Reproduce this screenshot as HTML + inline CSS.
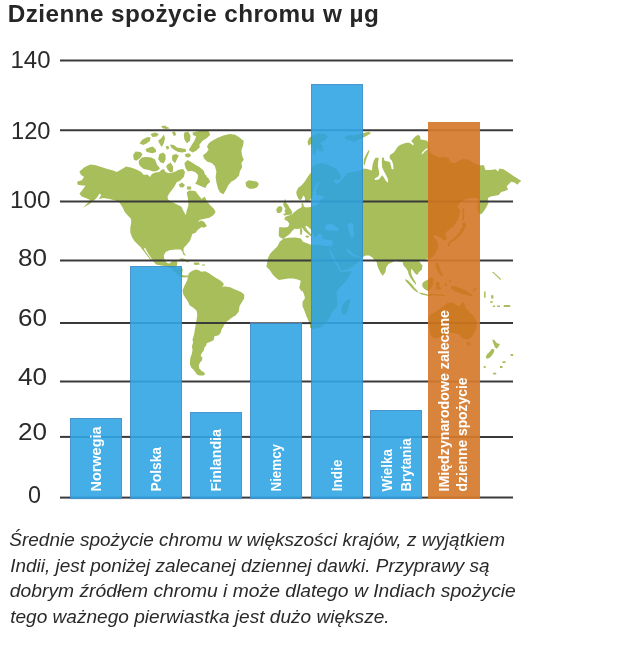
<!DOCTYPE html>
<html lang="pl"><head><meta charset="utf-8"><title>Dzienne spożycie chromu w µg</title>
<style>
html,body{margin:0;padding:0;background:#fff;}
body{width:640px;height:653px;overflow:hidden;position:relative;font-family:"Liberation Sans",sans-serif;}
svg{position:absolute;left:0;top:0;display:block}
text{font-family:"Liberation Sans",sans-serif;}
.t{font-weight:bold;font-size:24.3px;fill:#262626}
.yl{font-size:23.5px;fill:#2a2a2a}
.bl{font-weight:bold;font-size:14.6px;fill:#fff}
.cap{font-style:italic;font-size:18.6px;fill:#2a2a2a}
</style></head><body>
<svg width="640" height="653" viewBox="0 0 640 653">
<text class="t" x="7.8" y="21.6" textLength="371" lengthAdjust="spacing">Dzienne spożycie chromu w µg</text>
<text class="yl" x="10.5" y="67.5" textLength="40.0" lengthAdjust="spacingAndGlyphs">140</text>
<text class="yl" x="11" y="138.5" textLength="39.5" lengthAdjust="spacingAndGlyphs">120</text>
<text class="yl" x="10" y="208.2" textLength="40.5" lengthAdjust="spacingAndGlyphs">100</text>
<text class="yl" x="18" y="265.6" textLength="29" lengthAdjust="spacingAndGlyphs">80</text>
<text class="yl" x="18" y="326.2" textLength="29" lengthAdjust="spacingAndGlyphs">60</text>
<text class="yl" x="18" y="385" textLength="29" lengthAdjust="spacingAndGlyphs">40</text>
<text class="yl" x="18" y="440.2" textLength="29" lengthAdjust="spacingAndGlyphs">20</text>
<text class="yl" x="28" y="502.6" textLength="13" lengthAdjust="spacingAndGlyphs">0</text>
<path fill="#a7be5a" fill-rule="nonzero" d="M79.4 171.6 L84.8 166.9 L90.3 164.5 L95.8 165.3 L101.2 166.9 L106.7 168.8 L112.2 170.3 L116.9 171.9 L121.6 169.2 L126.2 166.6 L131.7 167.7 L135.6 169.2 L137.5 170.1 L141.2 172 L143.8 175.1 L147.5 174.5 L150 177 L151.9 173.9 L155 172.6 L159.4 172 L161.2 170.1 L163.8 168.9 L165.6 172 L168.8 173.2 L172.5 172.6 L175.6 171.4 L178.1 170.1 L180 169.5 L183.1 168.9 L185 172 L183.8 177 L180 180.8 L176.9 182 L174.4 186.4 L171.9 190.1 L169.4 193.2 L167.5 196.4 L168 199.5 L171.9 201.9 L176.6 204.2 L181.2 206.6 L183.6 211.2 L185.9 215.2 L186.7 210.5 L188.3 205.8 L188.3 201.1 L187.5 196.4 L186.7 192.5 L189.1 190.6 L195.3 191.1 L198.4 195 L201.6 198.9 L204.7 196.6 L207 201.2 L210.2 205.2 L214.1 209.1 L215.6 212.2 L213.3 215.3 L209.4 217.7 L204.7 218.8 L200 219.8 L197.7 222.2 L200.8 220.6 L203.9 221.4 L207 226.1 L203.9 227.7 L201.6 226.9 L197.7 230 L195.3 233.1 L192.2 233.9 L191.4 237 L189.8 240.9 L186.7 244.8 L183.6 248 L183.6 251.9 L185.9 255.8 L183.6 255 L182 251.1 L180.5 249.5 L175 249.5 L169.5 250.3 L165.6 251.9 L164.1 255 L163.8 254.4 L164 258.1 L165 260.6 L166.9 263.1 L169.4 263.5 L171.2 261.9 L172.5 260.6 L176.2 260.2 L177.5 263.1 L176.6 266.5 L175.6 267.8 L178.8 267.4 L181.9 267.8 L182.8 269.8 L182.2 272.8 L182 275 L184.4 275.6 L188.1 275.6 L188.1 276.9 L183.8 277.5 L180.6 276.9 L177.5 274.4 L173.8 271.2 L170 268.1 L166.2 266.2 L161.2 265.6 L156.2 264.4 L153.8 261.9 L151.2 258.1 L147.5 252.5 L145 247.5 L142.8 250.2 L140.5 247 L137.3 243.9 L134.2 240.8 L131.9 236.9 L130.3 232.2 L130.3 227.5 L131.1 223.6 L131.1 218.9 L128 215.8 L124.8 211.9 L122.5 207.2 L119.4 202.5 L115.3 200.5 L109.1 198.9 L103.6 198.1 L98.9 198.9 L101.2 195 L99.7 193.4 L96.6 198.1 L93.4 200.9 L88.8 204.4 L83.3 207.5 L87.2 203.6 L90.3 200 L85.6 198.1 L81.7 196.6 L79.4 193.4 L81.7 191.1 L83.3 188.8 L85.6 185.6 L82.5 185.6 L77.8 184.8 L77 181.7 L81.7 180.2 L84.1 177 L80.9 174.7Z M141.2 246.9 L143.1 247.5 L146.2 252.5 L149.4 256.9 L151.9 260 L150.6 260 L147.5 256.2 L144.4 251.9 L141.9 248.8Z M188 276.4 L188.8 273.3 L191.9 270.9 L195.8 269.4 L198.9 270.2 L201.2 271.7 L205.2 271.2 L209.1 273.3 L212.2 275.6 L216.1 278 L220 280.3 L223.1 282.7 L223.9 285 L221.6 286.6 L225.5 286.6 L230.2 287.3 L235.6 289.7 L241.1 292 L244.2 294.4 L244.2 298.3 L241.9 302.2 L239.5 306.1 L238.8 311.6 L235.6 315.5 L231.7 317.8 L228.6 320.2 L225.5 322.5 L223.9 325.6 L221.6 329.5 L220.6 333.1 L218.1 335.6 L214.4 336.2 L213.8 340 L210 341.9 L206.9 343.1 L206.2 345.6 L204.4 347.5 L203.8 350.6 L201.9 353.1 L200.6 355.6 L202.5 358.1 L201.9 360.6 L200 362.5 L198.8 365.6 L199.4 368.8 L201.9 371.2 L204.4 372.5 L205 374.4 L203.1 375.6 L199.4 375.6 L196.9 374.4 L195.6 372.5 L193.8 370 L191.2 367.5 L190 364.4 L190 360.6 L190.6 356.9 L191.9 353.8 L192.5 350 L191.9 346.2 L193.1 342.5 L192.5 339.4 L193.8 335.6 L194.4 332.5 L195 328.8 L195.8 324.1 L196.6 319.4 L197.3 314.7 L196.6 310.8 L193.4 307.7 L189.5 305.3 L188 301.4 L185.6 298.3 L183.3 294.4 L182.5 290.5 L184.1 286.6 L185.6 283.4 L187.2 280.3Z M211.7 141.1 L217.2 138 L223.4 135.6 L229.7 134.1 L235.2 134.8 L239.1 137.2 L243.8 141.1 L243 145.8 L241.4 150.5 L242.2 155.9 L243.8 159.8 L241.4 163 L242.2 166.9 L239.8 171.6 L239.1 175.5 L235.2 179.4 L231.2 181.7 L228.1 185.6 L225.8 190.3 L223.4 194.2 L220.3 192.7 L218 188.8 L216.4 182.5 L215.6 177 L216.4 171.6 L214.8 166.1 L211.7 163 L207 161.4 L203.9 158.3 L203.1 155.2 L206.2 152.8 L208.6 149.7 L207 146.6 L208.6 143.4Z M133.1 155.1 L135.6 151.4 L140.6 152 L142.5 154.5 L140 158.2 L136.2 160.8 L133.8 159.5Z M138.8 160.8 L141.9 157.6 L146.2 157 L151.2 157.6 L155 159.5 L156.9 164.5 L160 168.2 L157.5 170.8 L153.1 171.4 L148.8 170.1 L143.8 168.9 L140.6 166.4 L138.8 163.9Z M139.4 143.2 L142.5 139.5 L147.5 137 L150.6 137.6 L150 140.8 L146.9 143.2 L143.1 145.1Z M145.6 148.9 L149.4 147.6 L152.5 146.4 L155.6 148.9 L156.2 152 L152.5 153.2 L148.8 152.6 L146.2 151.4Z M150.6 133.9 L155 132.6 L158.8 133.9 L156.9 136.4 L152.5 137Z M158.1 140.8 L161.2 138.2 L163.8 134.5 L165 138.2 L163.8 143.2 L161.9 147 L160 144.5Z M161.2 125.8 L166.2 126.4 L170 128.2 L166.2 128.9 L162.5 128.2Z M171.9 132 L175 131.4 L176.2 135.1 L173.8 136Z M184.4 132.6 L188.1 131.4 L190.6 135.8 L190 140.8 L186.9 143.2 L184.4 139.5 L183.8 135.1Z M192.5 132.6 L200 130.8 L206.2 129.5 L203.9 128.6 L208.6 130.9 L210.2 134.8 L207 138 L202.3 141.1 L199.2 145 L200 147 L196.2 150.8 L192.5 152.6 L188.8 150.1 L191.2 145.8 L194.4 140.8 L196.2 136.4 L193.1 135.1Z M170 144.5 L173.8 145.1 L176.9 147.6 L181.2 148.2 L185.6 148.9 L186.2 151.4 L182.5 152.6 L178.1 152 L174.4 150.1 L171.2 147.6Z M185 153.9 L189.4 153.2 L191.2 155.8 L188.8 157.6 L185.6 157Z M165.6 146.4 L168.1 145.8 L169.4 148.2 L166.9 149.8Z M159.4 153.9 L163.1 152.6 L165.6 155.1 L165.6 159.5 L163.8 163.2 L160.6 162.6 L158.1 158.9Z M172.5 155.1 L176.2 153.9 L178.8 155.8 L176.9 159.5 L175 163.2 L172.5 160.8 L171.9 157.6Z M167.5 164.5 L170.6 162.6 L173.1 166.4 L173.1 171.4 L170 172.6 L167.5 169.5 L166.2 166.4Z M184.4 163.2 L187.5 160.1 L191.2 162 L195 164.5 L199.4 167 L203.8 170.8 L205 174.5 L208.1 177 L205.5 175.5 L208.6 178.6 L210.2 181.7 L207 184.8 L205.5 188 L201.6 186.4 L197.7 184.8 L194.5 183.3 L195.6 183.2 L197.5 179.5 L198.1 175.1 L195 172 L191.2 170.8 L188.1 171.4 L185.6 168.2Z M178.8 184.5 L181.9 182.6 L185 185.1 L183.1 187.6 L180 187.2Z M186.9 186.4 L191.2 186.4 L191.2 189.5 L186.9 189.5Z M161.4 126.2 L165.3 125.5 L166.9 127.8 L163.8 128.6Z M245.5 182.5 L248.6 180.2 L253.3 180.9 L257.2 181.7 L258.8 184.1 L257.2 187.2 L253.3 188.8 L249.4 188.8 L246.2 186.4Z M307.5 141.9 L309.1 138 L312.5 135.6 L318.8 133.3 L325.8 134.1 L328.1 136.4 L325 140.3 L320.3 142.7 L322.7 147.3 L323.4 151.2 L319.5 151.2 L317.2 148.1 L315.6 153.6 L313.3 155.2 L312.5 148.1 L311.7 143.4 L308.6 145.8Z M344.5 137.2 L348.4 134.8 L353.9 135.6 L359.4 134.1 L362.5 133.3 L368.8 131.7 L371.1 133.3 L367.2 135.6 L362.5 138 L357.8 140.3 L353.9 141.9 L350 140.3 L346.1 139.5Z M368.8 150 L367.5 151.9 L365.6 155.6 L363.8 159.4 L363.5 163.8 L364.8 165.6 L365.6 161.2 L366.9 157.5 L368.8 153.1 L369.4 150.6Z M285 198.1 L286.2 203.1 L288.1 205 L289.4 207.5 L291.2 210 L292.5 213.1 L291.2 214.4 L287.5 215 L284.4 215.6 L283.1 214.4 L285.6 213.1 L284.4 211.2 L285.6 208.8 L283.8 206.2 L283.1 203.8 L284.4 201.9Z M276.9 208.1 L278.8 206.2 L281.2 206.2 L282.5 208.1 L281.9 211.2 L280 213.1 L277.5 213.1 L276.2 210.6Z M296.9 195.6 L296.2 191.9 L298.1 188.1 L301.9 185 L305 181.2 L308.1 176.2 L311 172.5 L311.7 166.9 L315.6 164.5 L321.9 163 L327.3 164.5 L332.8 166.9 L337.5 170 L339.8 173.9 L341.4 177 L339.1 180.2 L335.2 179.4 L333.6 181.7 L336.7 184.1 L340.6 180.9 L344.5 176.2 L346.9 173.1 L351.6 172.3 L356.2 171.6 L360.9 170 L364.1 168.4 L365.6 168.8 L368.8 169.4 L371.9 170.6 L372.5 165 L373.8 160.6 L375.6 157.8 L378.8 157.8 L378.2 161.2 L377.9 166.2 L379 171.2 L379.2 174.4 L378.1 176.5 L374.4 178.8 L375.2 180 L378.8 179.5 L381.2 176.5 L382.5 175.2 L384.4 178.5 L386.2 181.2 L388.2 182.8 L387.8 178.8 L385.8 174.8 L383.8 171 L382.2 167.5 L381.8 161.9 L382 157.8 L383.8 157.5 L384.4 160.6 L386.9 161.2 L389.8 162.1 L390.8 165.2 L391.8 169.2 L393.5 169.2 L393.2 164.4 L391.8 160.6 L390 158.8 L389.5 156.2 L390.6 154.4 L393.8 152.5 L395.6 150 L397.5 146.9 L400 145 L403.8 143.5 L408.1 142.5 L411.2 143.8 L413.1 145.6 L413.8 143.8 L411.2 141.2 L413.1 138.8 L415.6 136.2 L418.1 134.8 L420 136.2 L420.6 139.4 L423.8 140 L426.9 140.6 L428 141.9 L429.5 149.4 L430 152.8 L434.7 155.2 L439.4 157.5 L444.1 156.7 L448.8 158.3 L450.3 162.2 L455 163 L459.7 160.6 L462.8 159.1 L469.1 159.8 L473.8 163 L480 165.3 L483.9 165.3 L485.5 170 L490.2 170 L495.6 169.2 L498 171.6 L499.5 168.4 L503.4 169.2 L508.1 172.3 L512.8 175.5 L517.5 178.6 L521.4 180.9 L519.1 182.5 L517.5 184.8 L514.4 182.5 L511.2 181.7 L508.9 184.1 L506.6 186.4 L508.1 189.5 L505 191.1 L501.1 191.9 L498.8 195 L494.8 195.8 L490.9 196.6 L487.8 198.1 L488.6 202.8 L486.2 207.5 L483.1 212.2 L480.8 214.5 L478.1 212.2 L477.2 207.5 L477.8 202.8 L478.8 198.9 L475.3 198.1 L469.8 198.1 L464.4 199.7 L459.7 202.8 L457.3 206.7 L460.2 210.3 L459.4 215.8 L457 221.2 L453.9 225.9 L450 229.1 L446.1 232.2 L445.3 234.5 L446.9 236.9 L446.1 240 L443.8 240.8 L442.2 238.4 L439.1 236.9 L435.2 235.3 L432.8 236.1 L436.7 240 L438.3 244.7 L437.5 249.4 L435.2 254.1 L432 257.2 L428.1 259.5 L428 258.6 L425.3 259.7 L422.2 260.9 L419.1 260.9 L420.6 263.3 L422.5 265.6 L421.9 269.5 L419.1 271.9 L417.2 275 L415.2 273.4 L412.8 270.3 L411.2 268.8 L410.9 271.9 L412 275.8 L413.6 278.9 L415.6 282 L416.2 285.2 L415.2 284.1 L412.8 281.2 L410.5 278.1 L408.9 275 L407.8 271.1 L405.8 268 L403.4 265.6 L402.7 262.2 L399.5 261.7 L395.6 260.9 L391.7 262.5 L388.6 264.1 L386.2 267.2 L385.5 271.9 L382.8 275.8 L380.5 272.7 L378.9 269.5 L377.3 265.6 L376.6 261.7 L374.2 260.2 L372.7 257.8 L369.5 255.5 L365.6 255.5 L363 257 L361.7 258.6 L357.8 262.5 L353.1 266.4 L346.9 269.5 L341.9 271.1 L339.8 268 L336.7 262.5 L333.6 256.2 L330.5 250.8 L330 246.9 L332 245.3 L332.8 243 L332 239.8 L327.3 239.8 L322.7 239.1 L321.9 235.2 L319.5 233.6 L315.6 237.5 L313.3 235.2 L311.7 231.2 L311 229.6 L308.4 227.3 L306.6 225.8 L305.2 226.4 L306.1 228 L307 229.6 L308.4 231.2 L309.8 232.7 L311 234.1 L311.7 235.5 L311 236.4 L309.8 235.5 L307.5 233.6 L305.2 231.7 L303.3 229.4 L301.9 227.5 L300 228.4 L297.2 228.9 L294.4 228.8 L291.9 231.2 L290 233.8 L286.9 236.2 L283.1 238.8 L281.2 238.1 L278.8 236.2 L278.8 231.2 L279.4 226.9 L283.8 227.5 L288.1 226.9 L289.4 223.8 L287.5 221.2 L284.4 219.4 L285 216.9 L288.8 215.6 L291.9 214.4 L294.4 211.9 L297.5 209.4 L301.2 207.5 L301.9 205.6 L301.2 203.8 L303.1 203.1 L303.8 206.2 L305.6 207.5 L311 206.9 L315 205.6 L318.8 203.8 L320 200 L325 196.9 L320 195.6 L316.2 195 L315.6 190 L318.1 185 L320 181.9 L317.5 182.5 L315 186.9 L313.1 191.9 L312.5 196.2 L310 200 L306.9 201.9 L305 200.6 L305 198.1 L303.8 195.6 L302.5 196.9 L301.2 200 L298.8 199.4Z M283.6 238.6 L289.1 237.8 L295.3 237.5 L300.8 238.6 L303.1 241.7 L307 243.3 L310.9 244.8 L315.6 244.5 L321.1 245.3 L325.8 246.1 L329.7 245.6 L329.7 251.6 L332 257 L335.2 262.5 L338.3 268 L340.9 271.9 L346.9 271.6 L351.6 271.1 L350 275 L346.9 279.7 L343 284.4 L339.1 288.3 L336.7 292.2 L336.7 296.9 L337.5 301.9 L336.7 307.3 L333.1 310.6 L331.2 314.4 L329.4 318.1 L326.9 321.2 L324.4 323.8 L322.5 326.2 L319.4 327.5 L315.6 328.8 L311.9 328.8 L310 327.5 L310 324.4 L308.1 320 L306.2 315.6 L304.4 310.6 L302.5 306.2 L302.5 301.9 L305 298.1 L303.8 293.8 L301.9 290 L301.6 291.7 L299.2 287.8 L300 284.7 L300.8 280.8 L296.9 279.2 L293 278.4 L288.3 278.4 L283.6 279.2 L278.9 280 L275.8 277.7 L272.7 274.5 L269.5 269.8 L266.4 266.7 L267.2 262 L268 258.1 L270.3 253.4 L273.4 250.3 L277.3 246.4 L279.7 241.7Z M341.9 305.6 L344.4 302.5 L347.5 299.4 L350 298.8 L350 301.9 L348.8 306.2 L347.5 310.6 L345.6 314.4 L343.8 315 L341.9 312.5 L341.5 308.8Z M461.7 227.5 L464.8 226.7 L463.3 231.4 L460.2 235.3 L457 238.4 L453.1 241.6 L449.2 243.9 L448.4 242.3 L452.3 239.2 L456.2 236.1 L459.4 232.2Z M461.7 223.6 L464.1 222 L466.4 224.4 L465.6 227.5 L462.5 226.7Z M447.7 243.1 L450 243.4 L450 246.2 L448.1 246.6Z M463.3 207.2 L464.4 213.4 L464.1 219.7 L462.5 221.2 L462.5 215 L462.2 208.8Z M405 278.9 L408.1 280.5 L411.2 283.6 L414.4 287.5 L417.5 290.9 L418.3 293 L415.9 291.4 L412 288.3 L408.9 284.4 L405.8 281.2Z M418.3 292.5 L422.2 293 L426.9 294.2 L431.6 295.3 L430.8 296.4 L426.1 295.6 L421.4 294.5Z M422.2 283.6 L424.5 281.2 L427.7 279.7 L431.6 277.3 L433.9 278.9 L433.1 283.6 L431.6 288.3 L427.7 290.9 L424.5 289.1 L422.5 286.7Z M435.6 263.3 L438 262.5 L439.5 267.2 L441.1 271.9 L443.4 275 L441.9 276.6 L439.5 274.2 L437.2 270.3 L435.6 266.4Z M428.6 317.2 L430.9 314.1 L435.6 311.7 L440.3 308.6 L444.2 305.5 L447.3 303.1 L451.2 302.3 L455.2 303.9 L458.3 306.2 L461.4 303.9 L463 301.6 L464.5 304.7 L466.1 308.6 L469.2 311.7 L472.3 314.8 L475.5 318.8 L477 323.4 L476.2 328.9 L473.9 333.6 L471.6 337.5 L467.7 339.8 L464.5 339.1 L461.4 337.5 L459.1 334.4 L455.2 333.6 L451.2 332.8 L446.6 334.4 L441.9 336.7 L437.2 338.3 L432.5 337.5 L430.2 333.6 L429.4 328.1 L428.6 322.7Z M466.1 342.2 L470 341.9 L470.8 344.5 L467.7 346.1Z M450.5 286.7 L454.4 285.9 L458.3 287.5 L463 289.1 L467.7 291.4 L471.6 294.5 L473.1 296.9 L470 296.1 L466.1 294.5 L462.2 294.5 L459.1 293 L455.2 291.4 L452 289.8Z M492.5 339.4 L494.4 340 L496.2 342.5 L498.1 343.8 L500 343.8 L498.8 346.2 L496.9 348.8 L495 347.5 L493.8 344.4 L492.8 341.9Z M491.9 348.8 L494.4 349.4 L493.8 352.5 L491.9 355.6 L489.4 358.1 L486.9 358.8 L485.6 356.9 L486.9 354.4 L489.4 351.9Z M510.6 354 L513.1 354 L513.1 355.9 L510.6 355.9Z M502.5 361.2 L505.6 361.2 L505.6 363.1 L502.5 363.1Z M500 366 L502.5 366 L502.5 368.1 L500 368.1Z M493.1 372.8 L496.2 372.8 L496.2 374.4 L493.1 374.4Z M483.8 366 L485.6 366 L485.6 368.1 L483.8 368.1Z M490 301.2 L492.8 301.2 L492.8 302.8 L490 302.8Z M492.8 305.6 L495 305.6 L495 306.9 L492.8 306.9Z M497.2 305.6 L500 305.6 L500 306.9 L497.2 306.9Z M503.8 305 L510.2 305 L510.2 306.9 L503.8 306.9Z M491.9 271.9 L493.4 271.9 L501.2 278.9 L500.5 280Z M484.1 291.4 L485.6 291.4 L485.6 297.7 L484.1 297.7Z M491.1 295.3 L493.4 295.3 L493.4 298.4 L491.1 298.4Z M179.4 258.8 L183.1 258.5 L187.5 260.6 L189.4 261.9 L187.5 262.2 L183.8 260.6 L180 260Z M193.8 262.5 L198.8 262.5 L200 264.4 L196.2 265 L193.8 264.4Z M201.9 264.4 L205 264.4 L205 265.6 L201.9 265.6Z M305.2 235.9 L307.5 235.5 L309.4 236.4 L308 237.8 L306.1 237.3Z M300.2 228.2 L301.7 228 L302.3 230.3 L302.1 233.1 L301.4 235 L300.2 234.5 L300 231.7Z M435.3 282.8 L438.1 281.7 L440.2 283.4 L439.1 286.1 L441.3 288.8 L440.2 290.5 L437.5 288.8 L436.4 290.5 L435.3 287.7 L436.4 285.6Z M429.8 294.3 L434.2 294 L439.7 294.6 L445.2 294.9 L445.2 296 L439.7 295.7 L434.2 295.3 L429.8 295.4Z M444.6 282.8 L446.8 283.4 L446.8 286.1 L444.9 285.9Z M449 280.1 L451.2 280.4 L451.2 282.3 L449 281.9Z M472.5 290.5 L475.8 287.7 L476.9 288.3 L474.2 291.6Z"/>
<path fill="#fff" d="M325 225.8 L328.9 223.4 L333.6 225 L336.7 227.3 L339.8 229.7 L336.7 230.9 L332 230.5 L328.1 230.5 L325 228.9Z M347.7 225 L350.8 222.7 L353.9 224.2 L353.1 228.9 L353.9 233.6 L353.1 237.5 L350.8 236.7 L349.7 232.8 L348.4 228.9Z M346.1 248.4 L350 250.8 L353.1 253.9 L357 255.5 L360.2 256.2 L357.8 257 L353.9 256.2 L350 253.9 L346.9 250.8Z M421.2 154.4 L422.5 151.9 L425 149.4 L427.5 148.1 L427.5 149.4 L425 151.2 L423.1 153.5Z"/>
<g stroke="#3a3a3a" stroke-width="2">
<line x1="60" x2="513" y1="60.4" y2="60.4"/>
<line x1="60" x2="311" y1="130.2" y2="130.2"/>
<line x1="311" x2="363" y1="130.2" y2="130.2" stroke-opacity="0.7"/>
<line x1="363" x2="428" y1="130.2" y2="130.2"/>
<line x1="428" x2="480" y1="130.2" y2="130.2" stroke-opacity="0.5"/>
<line x1="480" x2="513" y1="130.2" y2="130.2"/>
<line x1="60" x2="311" y1="201.5" y2="201.5"/>
<line x1="311" x2="363" y1="201.5" y2="201.5" stroke-opacity="0.7"/>
<line x1="363" x2="428" y1="201.5" y2="201.5"/>
<line x1="428" x2="480" y1="201.5" y2="201.5" stroke-opacity="0.5"/>
<line x1="480" x2="513" y1="201.5" y2="201.5"/>
<line x1="60" x2="311" y1="260.5" y2="260.5"/>
<line x1="311" x2="363" y1="260.5" y2="260.5" stroke-opacity="0.7"/>
<line x1="363" x2="428" y1="260.5" y2="260.5"/>
<line x1="428" x2="480" y1="260.5" y2="260.5" stroke-opacity="0.5"/>
<line x1="480" x2="513" y1="260.5" y2="260.5"/>
<line x1="60" x2="130" y1="323.1" y2="323.1"/>
<line x1="130" x2="182" y1="323.1" y2="323.1" stroke-opacity="0.7"/>
<line x1="182" x2="250" y1="323.1" y2="323.1"/>
<line x1="250" x2="302" y1="323.1" y2="323.1" stroke-opacity="0.7"/>
<line x1="302" x2="311" y1="323.1" y2="323.1"/>
<line x1="311" x2="363" y1="323.1" y2="323.1" stroke-opacity="0.7"/>
<line x1="363" x2="428" y1="323.1" y2="323.1"/>
<line x1="428" x2="480" y1="323.1" y2="323.1" stroke-opacity="0.5"/>
<line x1="480" x2="513" y1="323.1" y2="323.1"/>
<line x1="60" x2="130" y1="381.5" y2="381.5"/>
<line x1="130" x2="182" y1="381.5" y2="381.5" stroke-opacity="0.7"/>
<line x1="182" x2="250" y1="381.5" y2="381.5"/>
<line x1="250" x2="302" y1="381.5" y2="381.5" stroke-opacity="0.7"/>
<line x1="302" x2="311" y1="381.5" y2="381.5"/>
<line x1="311" x2="363" y1="381.5" y2="381.5" stroke-opacity="0.7"/>
<line x1="363" x2="428" y1="381.5" y2="381.5"/>
<line x1="428" x2="480" y1="381.5" y2="381.5" stroke-opacity="0.5"/>
<line x1="480" x2="513" y1="381.5" y2="381.5"/>
<line x1="60" x2="70" y1="436.9" y2="436.9"/>
<line x1="70" x2="122" y1="436.9" y2="436.9" stroke-opacity="0.7"/>
<line x1="122" x2="130" y1="436.9" y2="436.9"/>
<line x1="130" x2="182" y1="436.9" y2="436.9" stroke-opacity="0.7"/>
<line x1="182" x2="190" y1="436.9" y2="436.9"/>
<line x1="190" x2="242" y1="436.9" y2="436.9" stroke-opacity="0.7"/>
<line x1="242" x2="250" y1="436.9" y2="436.9"/>
<line x1="250" x2="302" y1="436.9" y2="436.9" stroke-opacity="0.7"/>
<line x1="302" x2="311" y1="436.9" y2="436.9"/>
<line x1="311" x2="363" y1="436.9" y2="436.9" stroke-opacity="0.7"/>
<line x1="363" x2="370" y1="436.9" y2="436.9"/>
<line x1="370" x2="422" y1="436.9" y2="436.9" stroke-opacity="0.7"/>
<line x1="422" x2="428" y1="436.9" y2="436.9"/>
<line x1="428" x2="480" y1="436.9" y2="436.9" stroke-opacity="0.5"/>
<line x1="480" x2="513" y1="436.9" y2="436.9"/>
<line x1="60" x2="70" y1="497.6" y2="497.6"/>
<line x1="70" x2="122" y1="497.6" y2="497.6" stroke-opacity="0.7"/>
<line x1="122" x2="130" y1="497.6" y2="497.6"/>
<line x1="130" x2="182" y1="497.6" y2="497.6" stroke-opacity="0.7"/>
<line x1="182" x2="190" y1="497.6" y2="497.6"/>
<line x1="190" x2="242" y1="497.6" y2="497.6" stroke-opacity="0.7"/>
<line x1="242" x2="250" y1="497.6" y2="497.6"/>
<line x1="250" x2="302" y1="497.6" y2="497.6" stroke-opacity="0.7"/>
<line x1="302" x2="311" y1="497.6" y2="497.6"/>
<line x1="311" x2="363" y1="497.6" y2="497.6" stroke-opacity="0.7"/>
<line x1="363" x2="370" y1="497.6" y2="497.6"/>
<line x1="370" x2="422" y1="497.6" y2="497.6" stroke-opacity="0.7"/>
<line x1="422" x2="428" y1="497.6" y2="497.6"/>
<line x1="428" x2="480" y1="497.6" y2="497.6" stroke-opacity="0.5"/>
<line x1="480" x2="513" y1="497.6" y2="497.6"/>
</g>
<g fill="#2ba2e3" fill-opacity="0.87" stroke="#3584c4" stroke-opacity="0.8" stroke-width="1">
<rect x="70.5" y="418.5" width="51.0" height="80.10000000000002"/>
<rect x="130.5" y="266.5" width="51.0" height="232.10000000000002"/>
<rect x="190.5" y="412.5" width="51.0" height="86.10000000000002"/>
<rect x="250.5" y="323.5" width="51.0" height="175.10000000000002"/>
<rect x="311.5" y="84.5" width="51.0" height="414.1"/>
<rect x="370.5" y="410.5" width="51.0" height="88.10000000000002"/>
</g>
<rect x="428" y="122" width="52" height="377" fill="#d26e1a" fill-opacity="0.85"/>
<text class="bl" transform="translate(101 491.5) rotate(-90)" textLength="65" lengthAdjust="spacingAndGlyphs">Norwegia</text>
<text class="bl" transform="translate(160.5 491.5) rotate(-90)" textLength="44.5" lengthAdjust="spacingAndGlyphs">Polska</text>
<text class="bl" transform="translate(220.5 491.5) rotate(-90)" textLength="62.5" lengthAdjust="spacingAndGlyphs">Finlandia</text>
<text class="bl" transform="translate(281 491.5) rotate(-90)" textLength="47.5" lengthAdjust="spacingAndGlyphs">Niemcy</text>
<text class="bl" transform="translate(341.5 491.3) rotate(-90)" textLength="31.8" lengthAdjust="spacingAndGlyphs">Indie</text>
<text class="bl" transform="translate(391.5 491.5) rotate(-90)" textLength="42.5" lengthAdjust="spacingAndGlyphs">Wielka</text>
<text class="bl" transform="translate(410.5 491.5) rotate(-90)" textLength="53" lengthAdjust="spacingAndGlyphs">Brytania</text>
<text class="bl" transform="translate(449 491.5) rotate(-90)" textLength="181.5" lengthAdjust="spacingAndGlyphs">IMiędzynarodowe zalecane</text>
<text class="bl" transform="translate(467 491.5) rotate(-90)" textLength="114" lengthAdjust="spacingAndGlyphs">dzienne spożycie</text>
<text class="cap" x="9.3" y="546.2" textLength="495.7" lengthAdjust="spacingAndGlyphs">Średnie spożycie chromu w większości krajów, z wyjątkiem</text>
<text class="cap" x="10.2" y="571.7" textLength="479.40000000000003" lengthAdjust="spacingAndGlyphs">Indii, jest poniżej zalecanej dziennej dawki. Przyprawy są</text>
<text class="cap" x="9.8" y="597.2" textLength="505.99999999999994" lengthAdjust="spacingAndGlyphs">dobrym źródłem chromu i może dlatego w Indiach spożycie</text>
<text class="cap" x="10.2" y="622.7" textLength="379.40000000000003" lengthAdjust="spacingAndGlyphs">tego ważnego pierwiastka jest dużo większe.</text>
</svg>
</body></html>
